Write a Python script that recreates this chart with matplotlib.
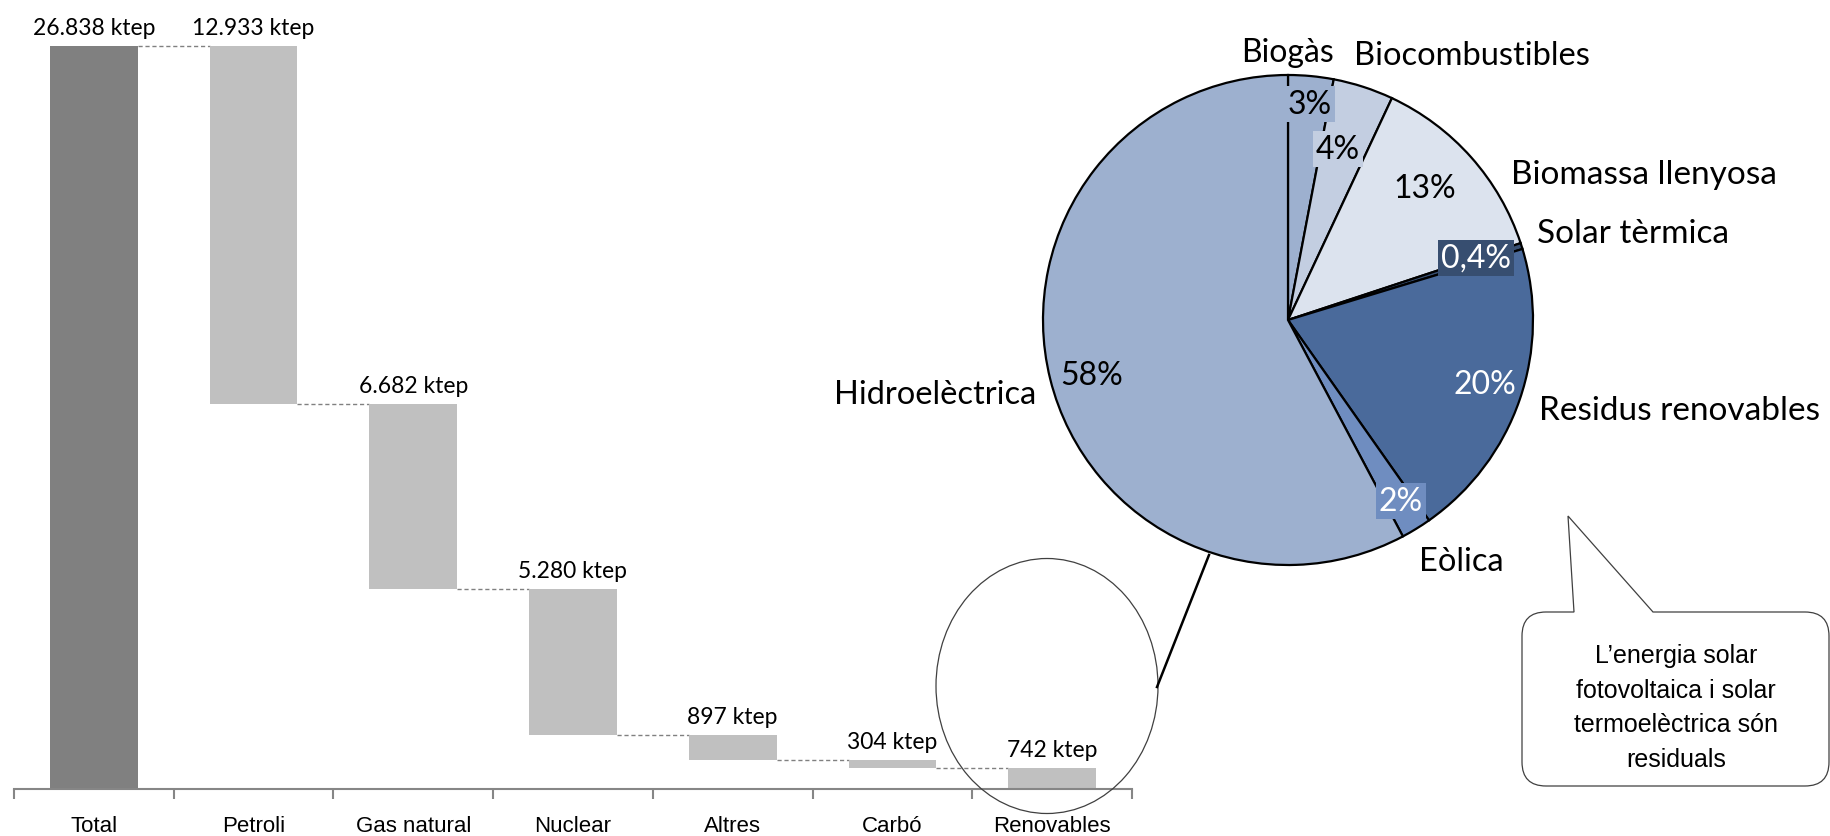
import numpy as np
import matplotlib.pyplot as plt
from matplotlib.patches import Ellipse, PathPatch
from matplotlib.path import Path

# waterfall data (ktep)
categories = ['Total', 'Petroli', 'Gas natural', 'Nuclear', 'Altres', 'Carbó', 'Renovables']
values = [26838, 12933, 6682, 5280, 897, 304, 742]
value_labels = ['26.838 ktep', '12.933 ktep', '6.682 ktep', '5.280 ktep',
                '897 ktep', '304 ktep', '742 ktep']

# renewables breakdown (%)
pie_names = ['Biogàs', 'Biocombustibles', 'Biomassa llenyosa', 'Solar tèrmica',
             'Residus renovables', 'Eòlica', 'Hidroelèctrica']
pie_values = [3, 4, 13, 0.4, 20, 2, 58]
pie_pct_labels = ['3%', '4%', '13%', '0,4%', '20%', '2%', '58%']
pie_colors = ['#9DB0CF', '#C3CEE1', '#DCE3EE', '#374E70', '#4A6A9B', '#6F8DC0', '#9DB0CF']

note_text = 'L\u2019energia solar\nfotovoltaica i solar\ntermoelèctrica són\nresiduals'

W, H = 1831, 837
fig = plt.figure(figsize=(W / 100, H / 100), dpi=100)

LABEL_FONT = ['Lato', 'DejaVu Sans']
TICK_FONT = ['Liberation Sans', 'DejaVu Sans']

# ---- waterfall ----
ax = fig.add_axes([14 / W, 47 / H, 1118 / W, 789 / H])
x = np.arange(len(categories))
bottoms = [0]
top = values[0]
for v in values[1:]:
    bottoms.append(top - v)
    top = top - v
colors = ['#808080'] + ['#C0C0C0'] * (len(values) - 1)
bw = 0.55
ax.bar(x, values, bw, bottom=bottoms, color=colors, zorder=2)

for i in range(len(values) - 1):
    level = bottoms[i + 1] + values[i + 1]
    ax.plot([x[i] + bw / 2, x[i + 1] - bw / 2], [level, level], color='#808080',
            lw=1, dashes=(3, 2), zorder=1)

for i, lab in enumerate(value_labels):
    ax.annotate(lab, (x[i], bottoms[i] + values[i]), xytext=(0, 6), textcoords='offset points',
                ha='center', va='bottom', fontsize=16.5, family=LABEL_FONT, color='black')

ax.set_xlim(-0.5, len(categories) - 0.5)
ax.set_ylim(0, 28500)
for s in ['top', 'right', 'left']:
    ax.spines[s].set_visible(False)
ax.spines['bottom'].set_color('#868686')
ax.spines['bottom'].set_linewidth(1.5)
ax.set_yticks([])
ax.set_xticks(np.arange(-0.5, len(categories)), labels=[])
ax.tick_params(axis='x', which='major', length=7.5, width=1.5, color='#868686', direction='out')
ax.set_xticks(x, labels=categories, minor=True)
ax.tick_params(axis='x', which='minor', length=0, pad=19, labelsize=16)
for t in ax.get_xticklabels(minor=True):
    t.set_family(TICK_FONT)
ax.patch.set_visible(False)

# ---- pie ----
cx, cy, r = 1288, 321, 245
pax = fig.add_axes([(cx - r) / W, (H - cy - r) / H, 2 * r / W, 2 * r / H])
pax.pie(pie_values, colors=pie_colors, startangle=90, counterclock=False,
        wedgeprops=dict(edgecolor='black', linewidth=1.6))
pax.set_xlim(-1, 1)
pax.set_ylim(-1, 1)

# ---- overlay in pixel coordinates ----
ov = fig.add_axes([0, 0, 1, 1], zorder=5)
ov.set_xlim(0, W)
ov.set_ylim(H, 0)
ov.axis('off')

ov.add_patch(Ellipse((1047, 687), 222, 255, fill=False, ec='#404040', lw=0.9))
ov.plot([1157, 1209], [688, 556], color='black', lw=1.8)

# slice names
name_pos = [(1288, 53, 'center'), (1354, 56, 'left'), (1511, 175, 'left'), (1537, 234, 'left'),
            (1539, 411, 'left'), (1419, 562, 'left'), (1036, 395, 'right')]
name_sizes = [23, 23.5, 24, 24, 24, 23.5, 23.5]
for name, (tx, ty, ha), fs in zip(pie_names, name_pos, name_sizes):
    ov.text(tx, ty, name, ha=ha, va='center', fontsize=fs, family=LABEL_FONT, color='black')

# percentage labels
pct_pos = [(1310, 105), (1338, 150), (1425, 189), (1476, 259), (1485, 385), (1401, 502), (1092, 376)]
pct_colors = ['black', 'black', 'black', 'white', 'white', 'white', 'black']
pct_boxed = [True, True, False, True, False, True, False]
for i, lab in enumerate(pie_pct_labels):
    kw = {}
    if pct_boxed[i]:
        kw['bbox'] = dict(boxstyle='square,pad=0.08', fc=pie_colors[i], ec='none')
    ov.text(pct_pos[i][0], pct_pos[i][1], lab, ha='center', va='center', fontsize=23,
            family=LABEL_FONT, color=pct_colors[i], **kw)

# callout bubble
x0, x1, y0, y1, rr = 1522, 1829, 613, 787, 24
verts = [(x0 + rr, y0), (1574, y0), (1568, 517), (1653, y0), (x1 - rr, y0),
         (x1, y0), (x1, y0 + rr), (x1, y1 - rr), (x1, y1), (x1 - rr, y1),
         (x0 + rr, y1), (x0, y1), (x0, y1 - rr), (x0, y0 + rr), (x0, y0), (x0 + rr, y0),
         (x0 + rr, y0)]
codes = [Path.MOVETO, Path.LINETO, Path.LINETO, Path.LINETO, Path.LINETO,
         Path.CURVE3, Path.CURVE3, Path.LINETO, Path.CURVE3, Path.CURVE3,
         Path.LINETO, Path.CURVE3, Path.CURVE3, Path.LINETO, Path.CURVE3, Path.CURVE3,
         Path.CLOSEPOLY]
ov.add_patch(PathPatch(Path(verts, codes), fc='white', ec='#404040', lw=0.9))
ov.text(1676, 708, note_text, ha='center', va='center', fontsize=18, family=TICK_FONT,
        color='black', linespacing=1.55)

fig.savefig('out.png', dpi=100)
